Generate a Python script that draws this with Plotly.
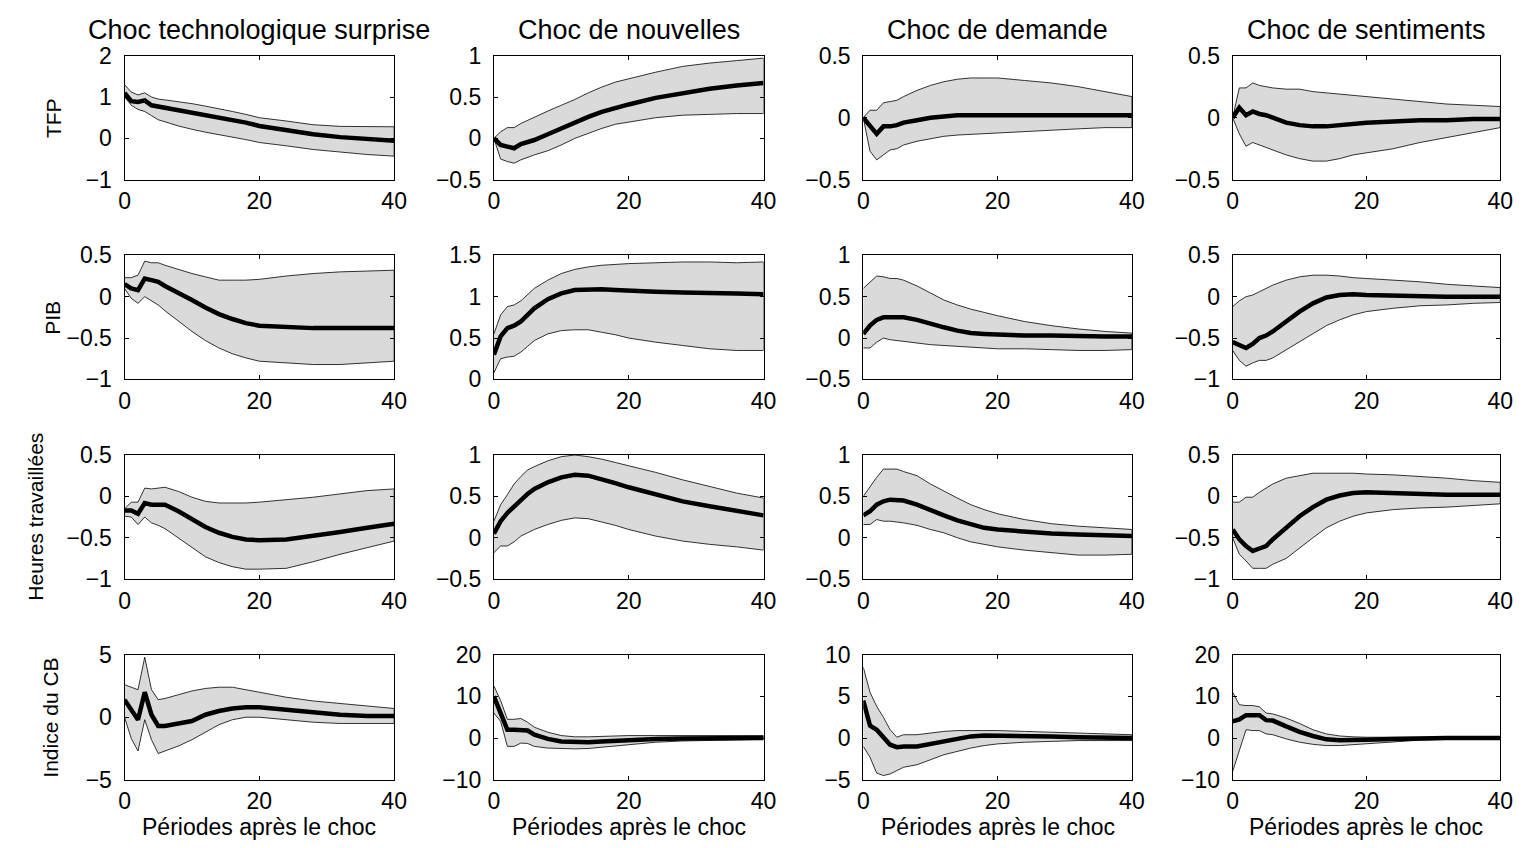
import plotly.graph_objects as go

# ---------------- DATA ----------------
periods = [0, 1, 2, 3, 4, 5, 6, 8, 10, 12, 14, 16, 18, 20, 24, 28, 32, 36, 40]
shock_titles = ["Choc technologique surprise", "Choc de nouvelles", "Choc de demande", "Choc de sentiments"]
variable_labels = ["TFP", "PIB", "Heures travaillées", "Indice du CB"]
x_label = "Périodes après le choc"
x_ticks = [0, 20, 40]

# TFP
tfp_surprise_med = [1.1, 0.9, 0.88, 0.92, 0.8, 0.77, 0.75, 0.7, 0.64, 0.58, 0.52, 0.45, 0.38, 0.3, 0.2, 0.1, 0.03, -0.02, -0.06]
tfp_surprise_hi = [1.3, 1.12, 1.05, 1.1, 1.0, 0.95, 0.93, 0.89, 0.84, 0.78, 0.72, 0.65, 0.58, 0.5, 0.42, 0.33, 0.29, 0.28, 0.28]
tfp_surprise_lo = [1.0, 0.8, 0.7, 0.65, 0.55, 0.45, 0.4, 0.3, 0.22, 0.15, 0.08, 0.03, -0.03, -0.1, -0.18, -0.27, -0.33, -0.39, -0.43]
tfp_nouvelles_med = [0.0, -0.08, -0.1, -0.12, -0.07, -0.05, -0.02, 0.05, 0.12, 0.2, 0.26, 0.32, 0.37, 0.41, 0.49, 0.55, 0.6, 0.64, 0.67]
tfp_nouvelles_hi = [0.0, 0.08, 0.13, 0.13, 0.18, 0.22, 0.25, 0.33, 0.4, 0.47, 0.55, 0.62, 0.68, 0.72, 0.8, 0.87, 0.91, 0.94, 0.97]
tfp_nouvelles_lo = [0.0, -0.25, -0.28, -0.3, -0.26, -0.23, -0.2, -0.15, -0.08, 0.0, 0.06, 0.12, 0.17, 0.2, 0.25, 0.28, 0.29, 0.3, 0.3]
tfp_demande_med = [0.0, -0.07, -0.13, -0.07, -0.07, -0.06, -0.04, -0.02, 0.0, 0.01, 0.02, 0.02, 0.02, 0.02, 0.02, 0.02, 0.02, 0.02, 0.02]
tfp_demande_hi = [0.0, 0.06, 0.06, 0.12, 0.13, 0.14, 0.17, 0.22, 0.26, 0.29, 0.31, 0.32, 0.32, 0.32, 0.3, 0.28, 0.25, 0.21, 0.17]
tfp_demande_lo = [0.0, -0.27, -0.34, -0.3, -0.26, -0.25, -0.22, -0.19, -0.17, -0.15, -0.14, -0.13, -0.13, -0.12, -0.11, -0.1, -0.09, -0.08, -0.08]
tfp_sentiments_med = [0.0, 0.08, 0.02, 0.05, 0.03, 0.02, 0.0, -0.04, -0.06, -0.07, -0.07, -0.06, -0.05, -0.04, -0.03, -0.02, -0.02, -0.01, -0.01]
tfp_sentiments_hi = [0.0, 0.24, 0.24, 0.28, 0.26, 0.25, 0.24, 0.23, 0.23, 0.21, 0.2, 0.19, 0.18, 0.17, 0.15, 0.13, 0.11, 0.1, 0.09]
tfp_sentiments_lo = [0.0, -0.13, -0.23, -0.2, -0.22, -0.24, -0.26, -0.3, -0.33, -0.35, -0.35, -0.33, -0.3, -0.28, -0.25, -0.2, -0.16, -0.12, -0.08]

# PIB
pib_surprise_med = [0.15, 0.1, 0.08, 0.22, 0.2, 0.18, 0.13, 0.05, -0.04, -0.13, -0.21, -0.27, -0.32, -0.35, -0.37, -0.38, -0.38, -0.38, -0.38]
pib_surprise_hi = [0.23, 0.23, 0.26, 0.43, 0.41, 0.41, 0.38, 0.33, 0.28, 0.24, 0.2, 0.2, 0.2, 0.21, 0.25, 0.28, 0.3, 0.31, 0.32]
pib_surprise_lo = [0.1, -0.02, -0.08, 0.0, -0.05, -0.1, -0.17, -0.3, -0.42, -0.53, -0.62, -0.69, -0.74, -0.78, -0.8, -0.82, -0.82, -0.8, -0.78]
pib_nouvelles_med = [0.3, 0.52, 0.62, 0.65, 0.7, 0.78, 0.86, 0.97, 1.04, 1.08, 1.09, 1.09, 1.08, 1.07, 1.06, 1.05, 1.05, 1.04, 1.03]
pib_nouvelles_hi = [0.55, 0.78, 0.88, 0.9, 0.95, 1.03, 1.1, 1.2, 1.28, 1.33, 1.36, 1.38, 1.39, 1.4, 1.41, 1.42, 1.42, 1.41, 1.42]
pib_nouvelles_lo = [0.08, 0.25, 0.27, 0.28, 0.33, 0.4, 0.47, 0.55, 0.59, 0.6, 0.6, 0.57, 0.54, 0.5, 0.45, 0.41, 0.37, 0.35, 0.35]
pib_demande_med = [0.05, 0.15, 0.22, 0.25, 0.25, 0.25, 0.25, 0.22, 0.17, 0.13, 0.09, 0.06, 0.05, 0.04, 0.03, 0.03, 0.02, 0.02, 0.02]
pib_demande_hi = [0.6, 0.68, 0.75, 0.74, 0.72, 0.72, 0.7, 0.63, 0.54, 0.46, 0.4, 0.35, 0.31, 0.27, 0.2, 0.15, 0.11, 0.08, 0.06]
pib_demande_lo = [-0.12, -0.12, -0.05, 0.0, -0.02, -0.03, -0.04, -0.06, -0.08, -0.09, -0.1, -0.11, -0.12, -0.13, -0.13, -0.14, -0.15, -0.15, -0.14]
pib_sentiments_med = [-0.55, -0.58, -0.62, -0.57, -0.5, -0.47, -0.42, -0.3, -0.18, -0.08, -0.01, 0.02, 0.03, 0.02, 0.01, 0.0, 0.0, 0.0, 0.0]
pib_sentiments_hi = [-0.12, -0.05, 0.0, 0.02, 0.06, 0.1, 0.14, 0.2, 0.24, 0.26, 0.26, 0.25, 0.23, 0.22, 0.2, 0.18, 0.15, 0.13, 0.11]
pib_sentiments_lo = [-0.65, -0.77, -0.84, -0.8, -0.77, -0.77, -0.74, -0.65, -0.55, -0.45, -0.35, -0.28, -0.22, -0.18, -0.14, -0.11, -0.1, -0.08, -0.07]

# Heures travaillees
heures_surprise_med = [-0.17, -0.17, -0.21, -0.08, -0.1, -0.1, -0.1, -0.18, -0.28, -0.37, -0.44, -0.49, -0.52, -0.53, -0.52, -0.48, -0.43, -0.38, -0.33]
heures_surprise_hi = [-0.15, -0.07, -0.07, 0.1, 0.09, 0.1, 0.11, 0.06, -0.01, -0.06, -0.08, -0.08, -0.08, -0.07, -0.04, -0.01, 0.03, 0.07, 0.09]
heures_surprise_lo = [-0.24, -0.25, -0.34, -0.25, -0.32, -0.35, -0.39, -0.5, -0.62, -0.73, -0.8, -0.85, -0.88, -0.88, -0.87, -0.79, -0.7, -0.62, -0.54]
heures_nouvelles_med = [0.05, 0.2, 0.3, 0.38, 0.46, 0.53, 0.59, 0.67, 0.73, 0.76, 0.75, 0.71, 0.66, 0.61, 0.52, 0.44, 0.38, 0.32, 0.27]
heures_nouvelles_hi = [0.2, 0.4, 0.52, 0.65, 0.74, 0.82, 0.86, 0.93, 0.98, 1.0, 0.98, 0.95, 0.91, 0.87, 0.79, 0.7, 0.62, 0.54, 0.48]
heures_nouvelles_lo = [-0.18, -0.1, -0.1, -0.05, 0.02, 0.06, 0.1, 0.16, 0.21, 0.24, 0.23, 0.19, 0.15, 0.1, 0.02, -0.04, -0.08, -0.11, -0.15]
heures_demande_med = [0.27, 0.32, 0.4, 0.44, 0.46, 0.46, 0.45, 0.4, 0.33, 0.27, 0.21, 0.16, 0.12, 0.1, 0.07, 0.05, 0.04, 0.03, 0.02]
heures_demande_hi = [0.5, 0.62, 0.73, 0.83, 0.83, 0.83, 0.8, 0.75, 0.65, 0.56, 0.48, 0.4, 0.34, 0.29, 0.22, 0.17, 0.14, 0.12, 0.1]
heures_demande_lo = [0.16, 0.16, 0.22, 0.2, 0.2, 0.19, 0.18, 0.15, 0.1, 0.06, 0.0, -0.05, -0.08, -0.11, -0.15, -0.18, -0.21, -0.21, -0.2]
heures_sentiments_med = [-0.4, -0.52, -0.6, -0.66, -0.63, -0.6, -0.52, -0.38, -0.24, -0.13, -0.04, 0.01, 0.04, 0.05, 0.04, 0.02, 0.02, 0.02, 0.02]
heures_sentiments_hi = [-0.07, -0.07, -0.01, -0.01, 0.05, 0.1, 0.15, 0.22, 0.25, 0.28, 0.28, 0.28, 0.28, 0.27, 0.26, 0.24, 0.22, 0.19, 0.17]
heures_sentiments_lo = [-0.5, -0.7, -0.78, -0.87, -0.87, -0.87, -0.82, -0.75, -0.62, -0.5, -0.38, -0.3, -0.24, -0.2, -0.16, -0.14, -0.13, -0.11, -0.09]

# Indice du CB
cb_surprise_med = [1.4, 0.6, -0.2, 2.0, 0.2, -0.7, -0.7, -0.5, -0.3, 0.2, 0.5, 0.7, 0.8, 0.8, 0.6, 0.4, 0.2, 0.1, 0.1]
cb_surprise_hi = [2.6, 2.4, 2.2, 4.8, 2.2, 1.4, 1.5, 1.8, 2.1, 2.3, 2.4, 2.4, 2.2, 2.0, 1.6, 1.3, 1.1, 0.9, 0.7]
cb_surprise_lo = [0.0, -1.7, -2.7, -0.2, -1.8, -2.9, -2.7, -2.3, -1.8, -1.2, -0.6, -0.2, 0.0, 0.0, -0.2, -0.4, -0.5, -0.5, -0.5]
cb_nouvelles_med = [10.0, 6.0, 2.0, 2.0, 2.0, 1.8, 0.8, -0.2, -0.8, -1.0, -1.0, -0.8, -0.6, -0.4, -0.2, -0.1, 0.0, 0.0, 0.0]
cb_nouvelles_hi = [12.5, 9.0, 4.5, 4.5, 4.7, 3.8, 2.6, 1.4, 0.6, 0.3, 0.3, 0.4, 0.5, 0.6, 0.6, 0.6, 0.6, 0.6, 0.6]
cb_nouvelles_lo = [6.0, 4.0, -2.0, -2.0, -1.2, -1.3, -2.0, -2.4, -2.5, -2.6, -2.5, -2.2, -1.9, -1.5, -1.0, -0.7, -0.5, -0.4, -0.3]
cb_demande_med = [4.5, 1.5, 1.0, 0.0, -0.8, -1.1, -1.0, -1.0, -0.7, -0.3, 0.0, 0.2, 0.3, 0.3, 0.3, 0.2, 0.1, 0.0, 0.0]
cb_demande_hi = [8.5, 5.5, 3.8, 2.5, 1.0, 0.1, 0.4, 0.4, 0.6, 0.8, 0.9, 0.9, 0.9, 0.9, 0.8, 0.7, 0.6, 0.5, 0.4]
cb_demande_lo = [-1.0, -2.3, -4.2, -4.5, -4.3, -3.9, -3.5, -3.2, -2.6, -2.0, -1.6, -1.2, -0.9, -0.7, -0.5, -0.4, -0.3, -0.3, -0.3]
cb_sentiments_med = [4.0, 4.5, 5.5, 5.5, 5.5, 4.3, 4.2, 2.8, 1.5, 0.5, -0.3, -0.5, -0.5, -0.4, -0.2, 0.0, 0.0, 0.0, 0.0]
cb_sentiments_hi = [11.0, 8.0, 7.8, 7.8, 7.5, 6.0, 5.8, 4.8, 3.5, 2.0, 1.0, 0.5, 0.3, 0.2, 0.2, 0.2, 0.2, 0.2, 0.2]
cb_sentiments_lo = [-8.0, -3.0, 2.0, 1.8, 1.8, 1.0, 0.8, -0.2, -1.0, -1.5, -1.8, -1.8, -1.6, -1.3, -0.9, -0.5, -0.3, -0.2, -0.2]

y_ranges = [
    [[-1, 2], [-0.5, 1], [-0.5, 0.5], [-0.5, 0.5]],
    [[-1, 0.5], [0, 1.5], [-0.5, 1], [-1, 0.5]],
    [[-1, 0.5], [-0.5, 1], [-0.5, 1], [-1, 0.5]],
    [[-5, 5], [-10, 20], [-5, 10], [-10, 20]],
]
y_ticks = [
    [[-1, 0, 1, 2], [-0.5, 0, 0.5, 1], [-0.5, 0, 0.5], [-0.5, 0, 0.5]],
    [[-1, -0.5, 0, 0.5], [0, 0.5, 1, 1.5], [-0.5, 0, 0.5, 1], [-1, -0.5, 0, 0.5]],
    [[-1, -0.5, 0, 0.5], [-0.5, 0, 0.5, 1], [-0.5, 0, 0.5, 1], [-1, -0.5, 0, 0.5]],
    [[-5, 0, 5], [-10, 0, 10, 20], [-5, 0, 5, 10], [-10, 0, 10, 20]],
]

panels = [
    [(tfp_surprise_med, tfp_surprise_lo, tfp_surprise_hi),
     (tfp_nouvelles_med, tfp_nouvelles_lo, tfp_nouvelles_hi),
     (tfp_demande_med, tfp_demande_lo, tfp_demande_hi),
     (tfp_sentiments_med, tfp_sentiments_lo, tfp_sentiments_hi)],
    [(pib_surprise_med, pib_surprise_lo, pib_surprise_hi),
     (pib_nouvelles_med, pib_nouvelles_lo, pib_nouvelles_hi),
     (pib_demande_med, pib_demande_lo, pib_demande_hi),
     (pib_sentiments_med, pib_sentiments_lo, pib_sentiments_hi)],
    [(heures_surprise_med, heures_surprise_lo, heures_surprise_hi),
     (heures_nouvelles_med, heures_nouvelles_lo, heures_nouvelles_hi),
     (heures_demande_med, heures_demande_lo, heures_demande_hi),
     (heures_sentiments_med, heures_sentiments_lo, heures_sentiments_hi)],
    [(cb_surprise_med, cb_surprise_lo, cb_surprise_hi),
     (cb_nouvelles_med, cb_nouvelles_lo, cb_nouvelles_hi),
     (cb_demande_med, cb_demande_lo, cb_demande_hi),
     (cb_sentiments_med, cb_sentiments_lo, cb_sentiments_hi)],
]

# ---------------- LAYOUT / STYLE ----------------
W, H = 1537, 848          # viewport in which the page is shown
FONT = "Liberation Sans, Arial, Helvetica, sans-serif"
TICK_SIZE = 23
TITLE_SIZE = 27
XLABEL_SIZE = 23
YLABEL_SIZE = 21
col_px = [(120, 393), (494, 767), (868, 1140), (1242, 1513)]
row_px = [(44, 172), (250, 378), (456, 584), (662, 791)]
ylabel_x_px = [48, 47, 29, 45]


def px2x(p):
    return p / W


def px2y(p):
    return 1 - p / H


def fmt(v):
    return ("%g" % v).replace("-", "\u2212")


fig = go.Figure()
annotations = []
layout_axes = {}

for i in range(4):
    for j in range(4):
        k = i * 4 + j + 1
        xa = "x" if k == 1 else "x%d" % k
        ya = "y" if k == 1 else "y%d" % k
        med, lo, hi = panels[i][j]
        fig.add_trace(go.Scatter(
            x=periods + periods[::-1], y=hi + lo[::-1],
            fill="toself", fillcolor="rgb(218,218,218)",
            line=dict(color="black", width=0.8),
            mode="lines", xaxis=xa, yaxis=ya, showlegend=False, hoverinfo="skip"))
        fig.add_trace(go.Scatter(
            x=periods, y=med, mode="lines",
            line=dict(color="black", width=4.5),
            xaxis=xa, yaxis=ya, showlegend=False))
        x0, x1 = col_px[j]
        y0, y1 = row_px[i]
        axis_common = dict(showline=True, linecolor="black", linewidth=1, mirror="ticks",
                           ticks="inside", ticklen=4, tickcolor="black", tickwidth=1,
                           showgrid=False, zeroline=False,
                           tickfont=dict(family=FONT, size=TICK_SIZE, color="black"))
        layout_axes["xaxis" if k == 1 else "xaxis%d" % k] = dict(
            domain=[px2x(x0), px2x(x1)], anchor=ya, range=[0, 40],
            tickvals=x_ticks, ticktext=[fmt(v) for v in x_ticks],
            ticklabelstandoff=1, **axis_common)
        layout_axes["yaxis" if k == 1 else "yaxis%d" % k] = dict(
            domain=[px2y(y1), px2y(y0)], anchor=xa, range=y_ranges[i][j],
            tickvals=y_ticks[i][j], ticktext=[fmt(v) for v in y_ticks[i][j]],
            ticklabelstandoff=7, **axis_common)

# column titles and x labels
for j in range(4):
    x0, x1 = col_px[j]
    annotations.append(dict(
        text=shock_titles[j], x=px2x((x0 + x1) / 2), y=px2y(row_px[0][0]),
        xref="paper", yref="paper", xanchor="center", yanchor="bottom", yshift=9,
        showarrow=False, font=dict(family=FONT, size=TITLE_SIZE, color="black")))
    annotations.append(dict(
        text=x_label, x=px2x((x0 + x1) / 2), y=px2y(row_px[3][1]),
        xref="paper", yref="paper", xanchor="center", yanchor="top", yshift=-32,
        showarrow=False, font=dict(family=FONT, size=XLABEL_SIZE, color="black")))

# row labels
for i in range(4):
    y0, y1 = row_px[i]
    annotations.append(dict(
        text=variable_labels[i], x=px2x(ylabel_x_px[i]), y=px2y((y0 + y1) / 2),
        xref="paper", yref="paper", xanchor="center", yanchor="middle", textangle=-90,
        showarrow=False, font=dict(family=FONT, size=YLABEL_SIZE, color="black")))

fig.update_layout(
    autosize=True, margin=dict(l=0, r=0, t=0, b=0),
    paper_bgcolor="white", plot_bgcolor="white",
    annotations=annotations, **layout_axes)

fig.write_html(
    "out.html",
    config={"displayModeBar": False, "responsive": True},
    default_width="100vw",
    default_height="100vh; position:fixed; top:0; left:0; margin:0",
)
